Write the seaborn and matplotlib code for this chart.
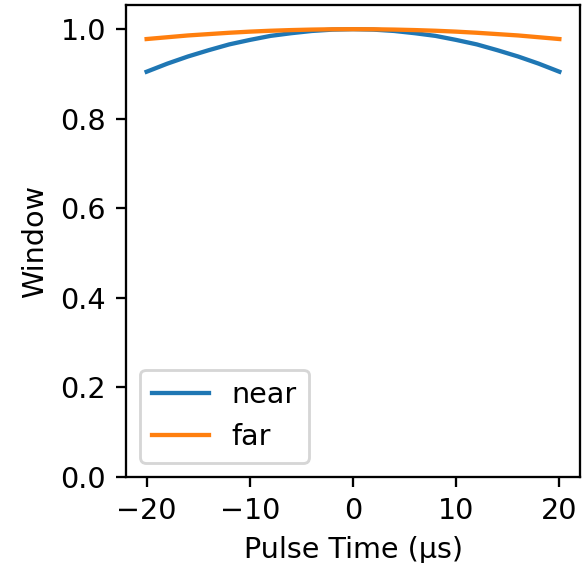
import matplotlib
matplotlib.use("Agg")
import matplotlib.pyplot as plt
import seaborn as sns
import pandas as pd

time_us = [-20, -18, -16, -14, -12, -10, -8, -6, -4, -2, 0,
           2, 4, 6, 8, 10, 12, 14, 16, 18, 20]
near = [0.905, 0.923, 0.939, 0.953, 0.966, 0.976, 0.985, 0.991, 0.996, 0.999, 1.0,
        0.999, 0.996, 0.991, 0.985, 0.976, 0.966, 0.953, 0.939, 0.923, 0.905]
far = [0.978, 0.982, 0.986, 0.989, 0.992, 0.9945, 0.9965, 0.998, 0.9991, 0.9998, 1.0,
       0.9998, 0.9991, 0.998, 0.9965, 0.9945, 0.992, 0.989, 0.986, 0.982, 0.978]

df = pd.concat([
    pd.DataFrame({"t": time_us, "w": near, "series": "near"}),
    pd.DataFrame({"t": time_us, "w": far, "series": "far"}),
])

DPI = 206
fig = plt.figure(figsize=(583 / DPI, 563 / DPI), dpi=DPI)
ax = fig.add_axes([126 / 583, 1 - 477 / 563, (580 - 126) / 583, (477 - 5) / 563])
sns.lineplot(data=df, x="t", y="w", hue="series", palette=["#1f77b4", "#ff7f0e"], ax=ax)
ax.set_ylim(0, 1.054)
ax.set_xlim(-22, 22)
ax.set_xlabel("Pulse Time (µs)")
ax.set_ylabel("Window")
ax.legend(loc="lower left", title=None)
fig.savefig("out.png", dpi=DPI)
